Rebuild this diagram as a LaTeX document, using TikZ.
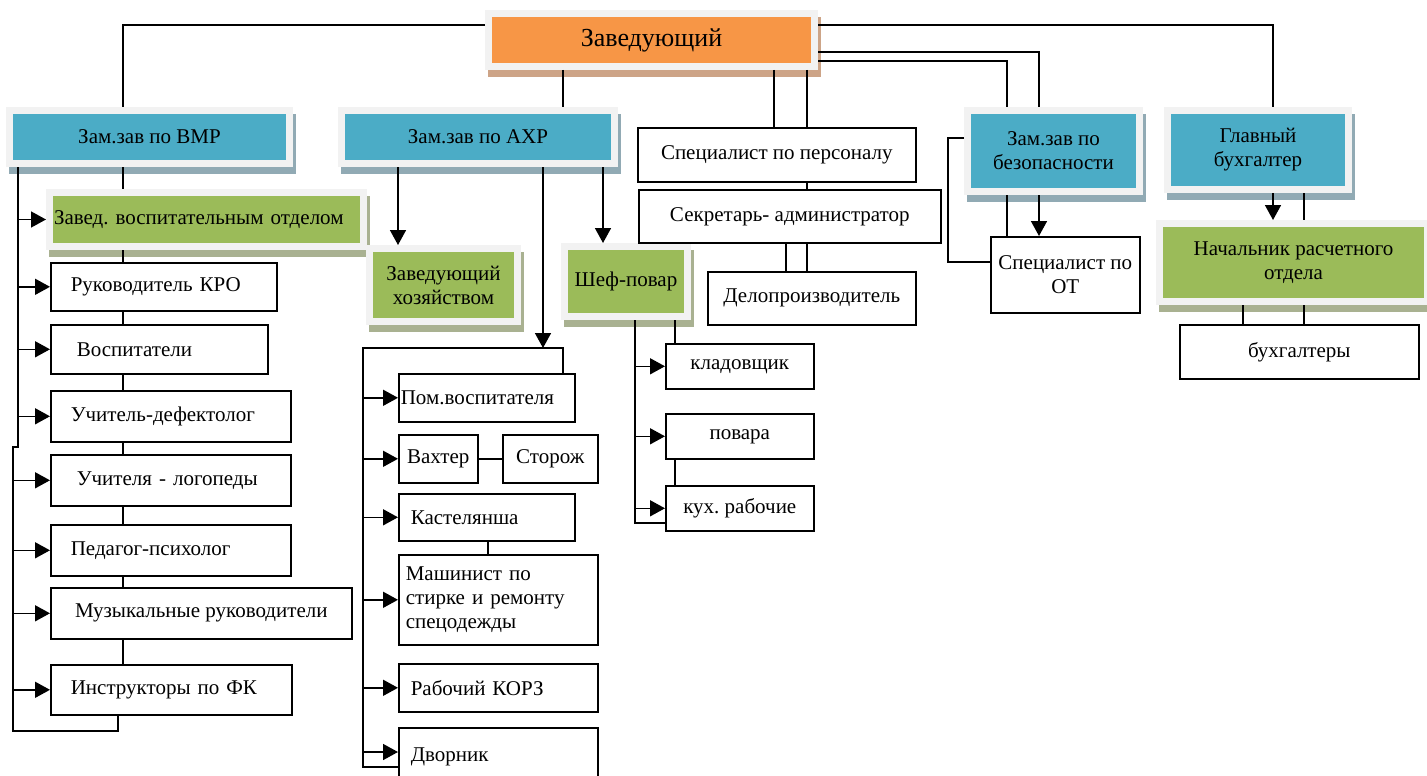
\documentclass[tikz,border=0pt]{standalone}
\usepackage{fontspec}
\setmainfont{Liberation Serif}
\usetikzlibrary{arrows.meta}

\definecolor{frame}{HTML}{F2F2F2}
\definecolor{capblue}{HTML}{4BACC6}
\definecolor{capgreen}{HTML}{9BBB59}
\definecolor{caporange}{HTML}{F79646}
\definecolor{shblue}{HTML}{91AAB4}
\definecolor{shgreen}{HTML}{A9B191}
\definecolor{shorange}{HTML}{CDA487}

\begin{document}
\begin{tikzpicture}[x=1pt, y=-1pt,
		every node/.style={font=\fontsize{21}{24}\selectfont},
		head/.style 2 args={
			draw=frame,
			line width=7pt,
			fill=#1,
			preaction={draw=#2, fill=#2, transform canvas={xshift=3pt, yshift=-7pt}},
			anchor=north west,
			inner sep=0pt,
			align=center},
		chief/.style={head={caporange}{shorange}},
		deputy/.style={head={capblue}{shblue}},
		sub/.style={head={capgreen}{shgreen}},
		cell/.style={
			draw,
			line width=1.6pt,
			fill=white,
			anchor=north west,
			inner sep=0pt,
			align=center},
		lcell/.style={cell, align=left},
		link/.style={line width=1.6pt},
		arr/.style={link, -{Triangle[length=15pt, width=16pt]}}]

		\useasboundingbox (0,0) rectangle (1427,776);

		% top rows
		\node (boss) [chief, font=\fontsize{26}{30}\selectfont, minimum width=326pt, minimum height=53pt] at (485,10) {Заведующий};
		\node (vmr) [deputy, minimum width=280pt, minimum height=53pt] at (6,107) {Зам.зав по ВМР};
		\node (axr) [deputy, minimum width=273pt, minimum height=53pt] at (338,107) {Зам.зав по АХР};
		\node (bez) [deputy, minimum width=172pt, minimum height=81pt] at (964,107) {Зам.зав по\\безопасности};
		\node (glav) [deputy, minimum width=181pt, minimum height=79pt] at (1164,107) {Главный\\бухгалтер};
		\node (zvo) [sub, align=left, minimum width=314pt, minimum height=54pt, inner xsep=4.5pt, text width=305pt] at (46,189) {Завед.\ воспитательным отделом};
		\node (zhoz) [sub, minimum width=148pt, minimum height=73pt] at (366,245) {Заведующий\\хозяйством};
		\node (shef) [sub, minimum width=123pt, minimum height=70pt] at (561,243) {Шеф-повар};
		\node (nach) [sub, minimum width=268pt, minimum height=78pt] at (1156,220) {Начальник расчетного\\отдела};

		\node (spec) [cell, minimum width=278pt, minimum height=54pt] at (637,127) {Специалист по персоналу};
		\node (sekr) [cell, minimum width=302pt, minimum height=53pt] at (638,189) {Секретарь- администратор};
		\node (delo) [cell, minimum width=208pt, minimum height=53pt] at (707,271) {Делопроизводитель};
		\node (ot) [cell, minimum width=149pt, minimum height=76pt] at (990,236) {Специалист по\\ОТ};
		\node (buh) [cell, minimum width=239pt, minimum height=54pt] at (1179,324) {бухгалтеры};

		% left column
		\node (kro) [lcell, minimum width=226pt, minimum height=48pt, inner xsep=20pt, text width=186pt] at (50,262) {Руководитель КРО};
		\node (vosp) [lcell, minimum width=217pt, minimum height=49pt, inner xsep=26pt, text width=165pt] at (50,324) {Воспитатели};
		\node (defekt) [lcell, minimum width=240pt, minimum height=51pt, inner xsep=20pt, text width=200pt] at (50,390) {Учитель-дефектолог};
		\node (logo) [lcell, minimum width=240pt, minimum height=51pt, inner xsep=26pt, text width=188pt] at (50,454) {Учителя - логопеды};
		\node (psih) [lcell, minimum width=240pt, minimum height=51pt, inner xsep=20pt, text width=200pt] at (50,524) {Педагог-психолог};
		\node (muz) [cell, minimum width=301pt, minimum height=51pt] at (50,587) {Музыкальные руководители};
		\node (fk) [lcell, minimum width=241pt, minimum height=50pt, inner xsep=20pt, text width=201pt] at (50,664) {Инструкторы по ФК};

		% middle column
		\node (pom) [lcell, minimum width=176pt, minimum height=48pt, inner xsep=2pt, text width=172pt] at (398,373) {Пом.воспитателя};
		\node (vaht) [cell, minimum width=79pt, minimum height=48pt] at (398,434) {Вахтер};
		\node (stor) [cell, minimum width=95pt, minimum height=48pt] at (502,434) {Сторож};
		\node (kast) [lcell, minimum width=176pt, minimum height=47pt, inner xsep=12pt, text width=152pt] at (398,493) {Кастелянша};
		\node (mash) [lcell, minimum width=199pt, minimum height=90pt, inner xsep=7pt, text width=185pt] at (398,554) {Машинист по\\стирке и ремонту\\спецодежды};
		\node (korz) [lcell, minimum width=199pt, minimum height=48pt, inner xsep=12pt, text width=175pt] at (398,663) {Рабочий КОРЗ};
		\node (dvor) [lcell, minimum width=199pt, minimum height=58pt, inner xsep=12pt, text width=175pt] at (398,727) {Дворник};

		\node (klad) [cell, minimum width=148pt, minimum height=45pt] at (665,343) {кладовщик};
		\node (povar) [cell, minimum width=148pt, minimum height=45pt] at (665,413) {повара};
		\node (kuh) [cell, minimum width=148pt, minimum height=45pt] at (665,485) {кух.\ рабочие};

		\coordinate (hub) at (543,348);

		% from the head
		\draw [link] (boss.west |- 0,25) -| (123,0 |- vmr.north);
		\draw [link] (boss.east |- 0,25) -| (1273,0 |- glav.north);
		\draw [link] (boss.east |- 0,52) -| (1039,0 |- bez.north);
		\draw [link] (boss.east |- 0,61) -| (1007,0 |- bez.north);
		\draw [link] (563,0 |- boss.south) -- (563,0 |- axr.north);
		\draw [link] (774,0 |- boss.south) -- (774,0 |- spec.north);
		\draw [link] (807,0 |- boss.south) -- (807,0 |- spec.north);
		\draw [link] (807,0 |- spec.south) -- (807,0 |- sekr.north);
		\draw [link] (786,0 |- sekr.south) -- (786,0 |- delo.north);
		\draw [link] (807,0 |- sekr.south) -- (807,0 |- delo.north);

		\draw [link] (1007,0 |- bez.south) -- (1007,0 |- ot.north);
		\draw [arr] (1039,0 |- bez.south) -- (1039,0 |- ot.north);
		\draw [link] (bez.west |- 0,138) -- (948,138) |- (ot.west |- 0,262);
		\draw [arr] (1273,0 |- glav.south) -- (1273,0 |- nach.north);
		\draw [link] (1304,0 |- glav.south) -- (1304,0 |- nach.north);
		\draw [link] (1243,0 |- nach.south) -- (1243,0 |- buh.north);
		\draw [link] (1304,0 |- nach.south) -- (1304,0 |- buh.north);

		% left column links
		\draw [link] (123,0 |- vmr.south) -- (123,0 |- zvo.north);
		\draw [link] (123,0 |- zvo.south) -- (123,0 |- kro.north);
		\draw [link] (123,0 |- kro.south) -- (123,0 |- vosp.north);
		\draw [link] (123,0 |- vosp.south) -- (123,0 |- defekt.north);
		\draw [link] (123,0 |- defekt.south) -- (123,0 |- logo.north);
		\draw [link] (123,0 |- logo.south) -- (123,0 |- psih.north);
		\draw [link] (123,0 |- psih.south) -- (123,0 |- muz.north);
		\draw [link] (123,0 |- muz.south) -- (123,0 |- fk.north);
		\draw [link] (18,0 |- vmr.south) -- (18,447) -- (13,447) -- (13,731) -| (118,0 |- fk.south);
		\draw [arr] (18,0 |- zvo.west) -- (zvo.west);
		\draw [arr] (18,0 |- kro.west) -- (kro.west);
		\draw [arr] (18,0 |- vosp.west) -- (vosp.west);
		\draw [arr] (18,0 |- defekt.west) -- (defekt.west);
		\draw [arr] (13,0 |- logo.west) -- (logo.west);
		\draw [arr] (13,0 |- psih.west) -- (psih.west);
		\draw [arr] (13,0 |- muz.west) -- (muz.west);
		\draw [arr] (13,0 |- fk.west) -- (fk.west);

		% middle column links
		\draw [arr] (398,0 |- axr.south) -- (398,0 |- zhoz.north);
		\draw [arr] (603,0 |- axr.south) -- (603,0 |- shef.north);
		\draw [arr] (543,0 |- axr.south) -- (hub);
		\draw [link] (pom.north -| 563,0) |- (363,348) |- (dvor.west |- 0,767);
		\draw [arr] (363,0 |- pom.west) -- (pom.west);
		\draw [arr] (363,0 |- vaht.west) -- (vaht.west);
		\draw [arr] (363,0 |- kast.west) -- (kast.west);
		\draw [arr] (363,0 |- mash.west) -- (mash.west);
		\draw [arr] (363,0 |- korz.west) -- (korz.west);
		\draw [arr] (363,752) -- (dvor.west |- 0,752);
		\draw [link] (vaht) -- (stor);
		\draw [link] (488,0 |- kast.south) -- (488,0 |- mash.north);

		% kitchen links
		\draw [link] (635,0 |- shef.south) |- (kuh.west |- 0,523);
		\draw [link] (675,0 |- shef.south) -- (675,0 |- klad.north);
		\draw [arr] (635,0 |- klad.west) -- (klad.west);
		\draw [arr] (635,0 |- povar.west) -- (povar.west);
		\draw [arr] (635,0 |- kuh.west) -- (kuh.west);
		\draw [link] (675,0 |- povar.south) -- (675,0 |- kuh.north);
	\end{tikzpicture}
\end{document}
